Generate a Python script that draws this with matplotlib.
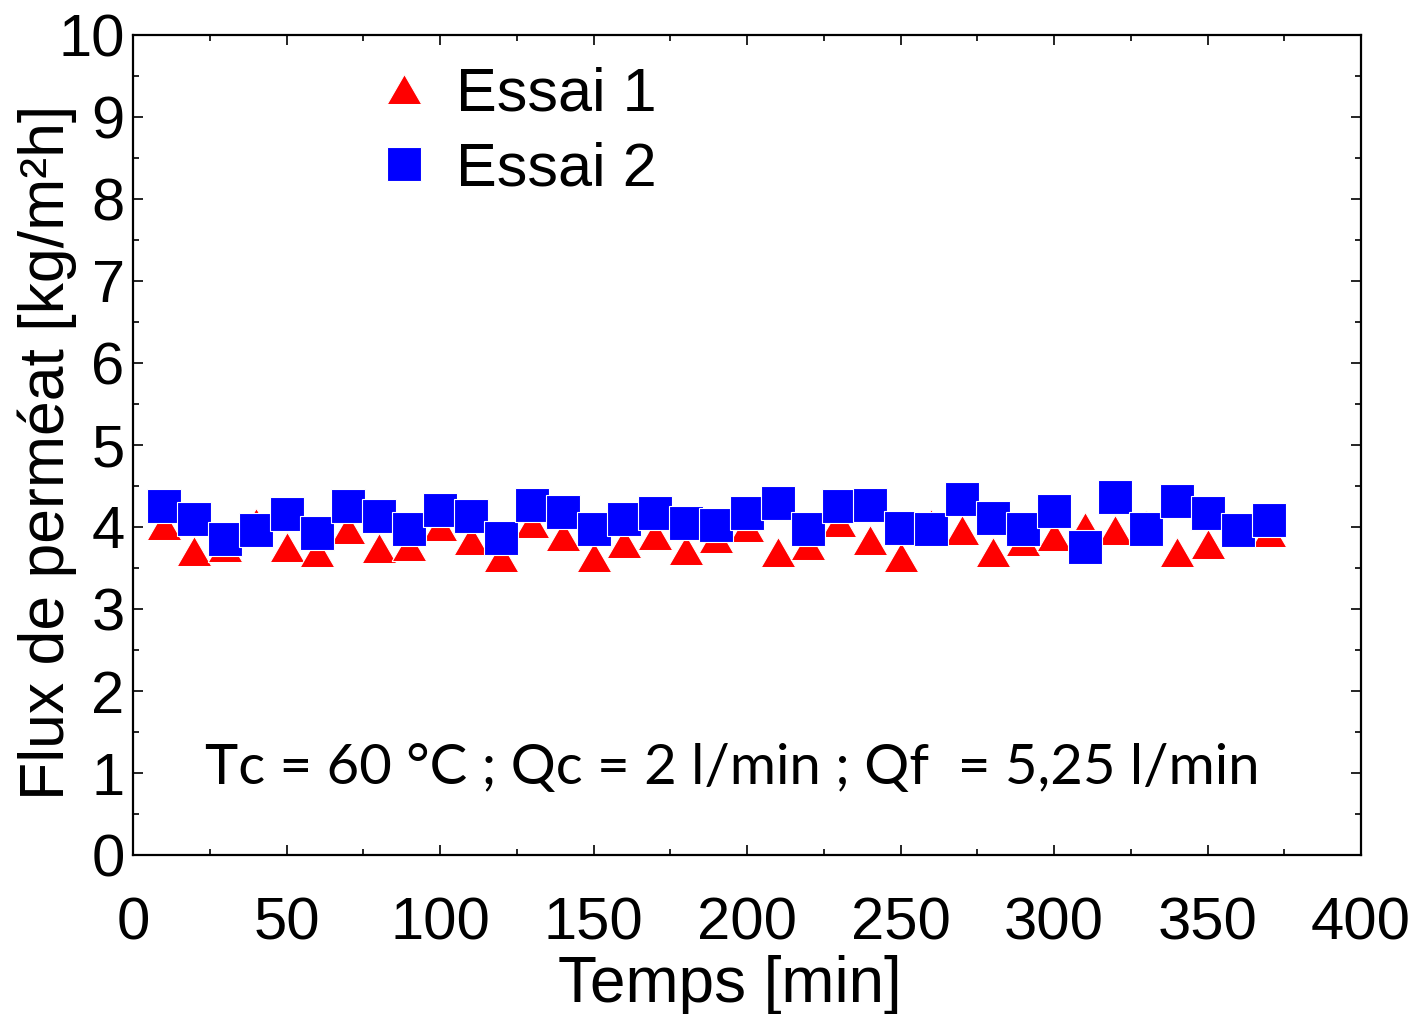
import numpy as np
import matplotlib
matplotlib.use("Agg")
import matplotlib.pyplot as plt

# temps de mesure [min]
temps = [10, 20, 30, 40, 50, 60, 70, 80, 90, 100, 110, 120, 130, 140, 150, 160, 170, 180, 190,
         200, 210, 220, 230, 240, 250, 260, 270, 280, 290, 300, 310, 320, 330, 340, 350, 360, 370]

# flux de perméat [kg/m2h]
essai1 = [4.03, 3.71, 3.76, 4.05, 3.75, 3.70, 3.98, 3.74, 3.77, 4.01, 3.84, 3.63, 4.05, 3.89,
          3.63, 3.81, 3.90, 3.72, 3.87, 4.00, 3.70, 3.78, 4.06, 3.84, 3.64, 4.04, 3.96, 3.70,
          3.83, 3.89, 4.00, 3.96, 4.03, 3.69, 3.79, 3.98, 3.94]
essai2 = [4.25, 4.10, 3.85, 3.96, 4.16, 3.93, 4.26, 4.13, 3.97, 4.21, 4.14, 3.87, 4.27, 4.18,
          3.97, 4.10, 4.17, 4.05, 4.02, 4.17, 4.29, 3.97, 4.25, 4.27, 3.99, 3.98, 4.34, 4.11,
          3.97, 4.19, 3.76, 4.36, 3.97, 4.32, 4.17, 3.96, 4.08]

conditions = "Tc = 60 °C ; Qc = 2 l/min ; Qf  = 5,25 l/min"

plt.rcParams['font.family'] = ['Liberation Sans', 'DejaVu Sans']

# triangle equilateral centre sur le point
tri = [(-1, -0.866), (1, -0.866), (0, 0.866), (-1, -0.866)]

fig = plt.figure(figsize=(14.17, 10.14), dpi=100)
ax = fig.add_axes([0.0939, 0.1568, 0.8666, 0.8087])

ax.plot(temps, essai1, linestyle='none', marker=tri, markersize=25, color='red',
        markeredgecolor='white', markeredgewidth=0.8, label="Essai 1")
ax.plot(temps, essai2, linestyle='none', marker='s', markersize=24, color='blue',
        markeredgecolor='white', markeredgewidth=0.8, label="Essai 2")

ax.set_xlim(0, 400)
ax.set_ylim(0, 10)
ax.set_xticks(np.arange(0, 401, 50))
ax.set_xticks(np.arange(0, 401, 25), minor=True)
ax.set_yticks(np.arange(0, 11, 1))
ax.set_yticks(np.arange(0, 10.1, 0.5), minor=True)
ax.tick_params(which='both', direction='in', top=True, right=True, width=1.2)
ax.tick_params(which='major', length=7)
ax.tick_params(which='minor', length=4)
ax.tick_params(axis='x', which='major', labelsize=43, pad=30)
ax.tick_params(axis='y', which='major', labelsize=43, pad=6)
for s in ax.spines.values():
    s.set_linewidth(1.6)

ax.set_xlabel("Temps [min]", fontsize=46)
ax.xaxis.set_label_coords(0.486, -0.122)
ax.set_ylabel("Flux de perméat [kg/m²h]", fontsize=45)
ax.yaxis.set_label_coords(-0.046, 0.491)

ax.text(23.5, 0.86, conditions, fontsize=40.5, family=['Lato', 'DejaVu Sans'], va='baseline')

ax.legend(loc='upper left', bbox_to_anchor=(0.176, 0.999), frameon=False, fontsize=44,
          handlelength=0.8, handletextpad=0.45, labelspacing=0.3, borderpad=0, markerscale=1.0)

fig.savefig("out.png", dpi=100)
